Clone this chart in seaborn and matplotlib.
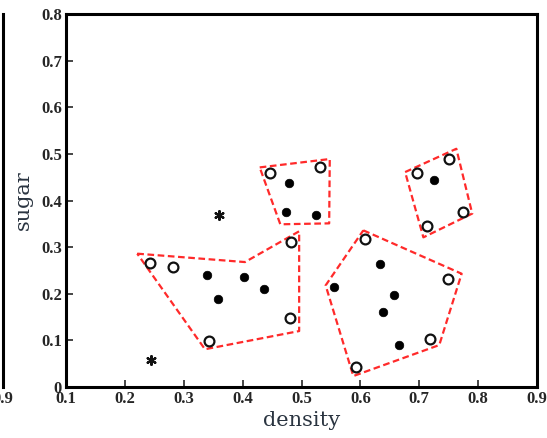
import matplotlib
matplotlib.use("Agg")
import matplotlib.pyplot as plt
import seaborn as sns
import pandas as pd

# ---- data (density, sugar) ----
core_density = [0.478, 0.473, 0.525, 0.725, 0.339, 0.403, 0.437, 0.359,
                0.556, 0.634, 0.657, 0.639, 0.666]
core_sugar = [0.437, 0.376, 0.369, 0.445, 0.241, 0.237, 0.211, 0.188,
              0.215, 0.264, 0.198, 0.161, 0.091]

border_density = [0.446, 0.532, 0.697, 0.751, 0.714, 0.774, 0.243, 0.282,
                  0.343, 0.483, 0.481, 0.608, 0.748, 0.719, 0.593]
border_sugar = [0.459, 0.472, 0.460, 0.489, 0.346, 0.376, 0.267, 0.257,
                0.099, 0.312, 0.149, 0.318, 0.232, 0.103, 0.042]

noise_density = [0.360, 0.245]
noise_sugar = [0.370, 0.057]

# cluster outlines (polygon vertices in data units)
hull_left_x = [0.221, 0.404, 0.496, 0.496, 0.336]
hull_left_y = [0.286, 0.268, 0.334, 0.120, 0.081]
hull_low_x = [0.605, 0.772, 0.734, 0.588, 0.541]
hull_low_y = [0.336, 0.243, 0.090, 0.0235, 0.218]
hull_mid_x = [0.429, 0.548, 0.547, 0.464]
hull_mid_y = [0.471, 0.489, 0.351, 0.349]
hull_top_x = [0.676, 0.763, 0.790, 0.707]
hull_top_y = [0.461, 0.511, 0.372, 0.321]

x_ticks = [0.1, 0.2, 0.3, 0.4, 0.5, 0.6, 0.7, 0.8, 0.9]
x_labels = ["0.1", "0.2", "0.3", "0.4", "0.5", "0.6", "0.7", "0.8", "0.9"]
y_ticks = [0, 0.1, 0.2, 0.3, 0.4, 0.5, 0.6, 0.7, 0.8]
y_labels = ["0", "0.1", "0.2", "0.3", "0.4", "0.5", "0.6", "0.7", "0.8"]

sns.set_style("white")
plt.rcParams["font.family"] = ["Liberation Serif", "DejaVu Serif"]

core_df = pd.DataFrame({"density": core_density, "sugar": core_sugar})
border_df = pd.DataFrame({"density": border_density, "sugar": border_sugar})
noise_df = pd.DataFrame({"density": noise_density, "sugar": noise_sugar})

fig = plt.figure(figsize=(5.47, 4.38), dpi=100)
ax = fig.add_axes([0.1207, 0.1164, 0.8610, 0.8516])

red = "#ff2a2a"
for hx, hy in [(hull_left_x, hull_left_y), (hull_low_x, hull_low_y),
               (hull_mid_x, hull_mid_y), (hull_top_x, hull_top_y)]:
    ax.plot(hx + hx[:1], hy + hy[:1], color=red, lw=1.6,
            dashes=(3.0, 1.6), zorder=2)

sns.scatterplot(data=border_df, x="density", y="sugar", ax=ax, marker="o",
                s=50, facecolor="white", edgecolor="#111111", linewidth=1.6,
                zorder=3)
sns.scatterplot(data=core_df, x="density", y="sugar", ax=ax, marker="o",
                s=38, color="black", edgecolor="black", linewidth=0.5,
                zorder=3)
sns.scatterplot(data=noise_df, x="density", y="sugar", ax=ax, marker=(6, 2, 0),
                s=40, color="#111111", edgecolor="#111111", linewidth=1.6,
                zorder=3)

ax.set_xlim(0.1, 0.9)
ax.set_ylim(0, 0.8)
ax.set_xticks(x_ticks)
ax.set_xticklabels(x_labels)
ax.set_yticks(y_ticks)
ax.set_yticklabels(y_labels)
for lab in ax.get_xticklabels() + ax.get_yticklabels():
    lab.set_fontweight("bold")
    lab.set_fontsize(12)
ax.tick_params(axis="both", direction="in", length=5, width=1.2,
               bottom=True, left=True, top=False, right=False, pad=3)
for sp in ax.spines.values():
    sp.set_visible(True)
    sp.set_linewidth(2.2)
    sp.set_color("black")

lab_font = dict(family=["DejaVu Serif"], fontsize=15, color="#2a3440")
ax.set_xlabel("density", labelpad=3, **lab_font)
ax.set_ylabel("sugar", labelpad=6, **lab_font)

# neighbouring panel peeking in on the left edge
ax2 = fig.add_axes([-0.5, 0.1164, 0.5055, 0.8516])
ax2.set_xlim(0.1, 0.9)
ax2.set_ylim(0, 0.8)
ax2.set_xticks([0.9])
ax2.set_xticklabels(["0.9"], fontweight="bold", fontsize=12)
ax2.set_yticks([])
ax2.tick_params(axis="x", length=0, pad=3)
for name, sp in ax2.spines.items():
    sp.set_visible(name == "right")
    sp.set_linewidth(2.2)
    sp.set_color("black")

fig.savefig("out.png", dpi=100)
